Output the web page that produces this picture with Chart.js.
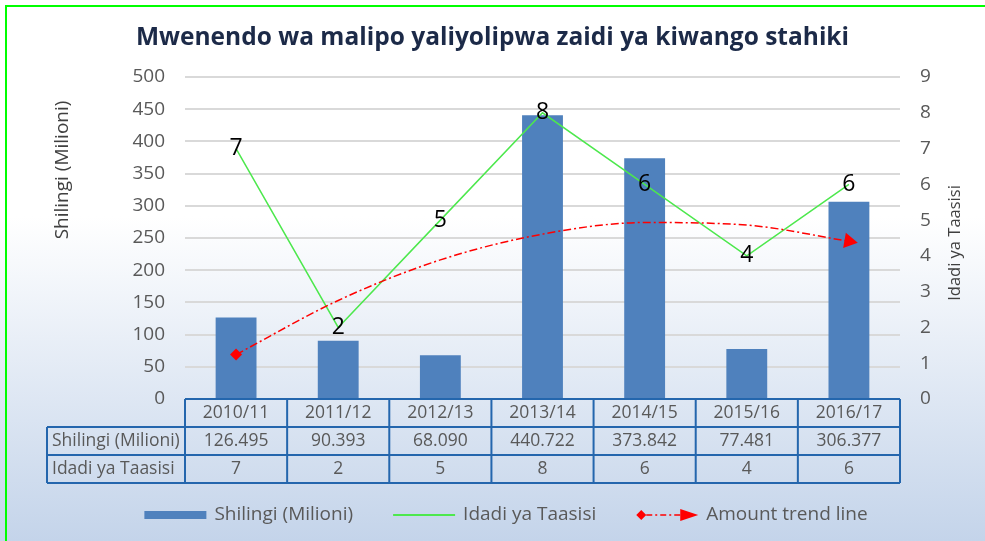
<!DOCTYPE html>
<html>
<head>
<meta charset="utf-8">
<script src="https://cdn.jsdelivr.net/npm/chart.js@4.4.0/dist/chart.umd.min.js"></script>
<style>
  html, body { margin: 0; padding: 0; background: #fff; }
  #chart { display: block; }
</style>
</head>
<body>
<canvas id="chart" width="985" height="541"></canvas>
<script>
const years = ['2010/11', '2011/12', '2012/13', '2013/14', '2014/15', '2015/16', '2016/17'];
const amounts = [126.495, 90.393, 68.090, 440.722, 373.842, 77.481, 306.377];
const amountText = ['126.495', '90.393', '68.090', '440.722', '373.842', '77.481', '306.377'];
const institutions = [7, 2, 5, 8, 6, 4, 6];
// trend line values at each year
const trend = [69, 153, 216, 256, 274, 270, 245];
const rowLabels = ['Shilingi (Milioni)', 'Idadi ya Taasisi'];

const FONT = "'Open Sans', 'DejaVu Sans', sans-serif";
const GREY = '#595959';
const BLUE = '#4f81bd';
const GREEN = '#4de84d';
const RED = '#ff0000';
const TABLE_LINE = '#2466ad';

// background gradient, green frame
const frame = {
  id: 'frame',
  beforeDraw(chart) {
    const ctx = chart.ctx;
    const g = ctx.createLinearGradient(0, 0, 0, chart.height);
    g.addColorStop(0, '#ffffff');
    g.addColorStop(0.4, '#ffffff');
    g.addColorStop(1, '#c4d4ea');
    ctx.save();
    ctx.fillStyle = g;
    ctx.fillRect(0, 0, chart.width, chart.height);
    ctx.restore();
  },
  afterDraw(chart) {
    const ctx = chart.ctx;
    ctx.save();
    ctx.fillStyle = '#00ff00';
    ctx.fillRect(5, 5, chart.width - 5, 2);
    ctx.fillRect(5, 5, 2, chart.height - 5);
    ctx.restore();
  }
};

// numbers on the green line
const pointLabels = {
  id: 'pointLabels',
  afterDatasetsDraw(chart) {
    const ctx = chart.ctx;
    const meta = chart.getDatasetMeta(1);
    ctx.save();
    ctx.font = '23px ' + FONT;
    ctx.fillStyle = '#000';
    ctx.textAlign = 'center';
    ctx.textBaseline = 'middle';
    meta.data.forEach((pt, i) => {
      ctx.fillText(String(institutions[i]), pt.x, pt.y);
    });
    ctx.restore();
  }
};

// axis titles, data table and legend
const extras = {
  id: 'extras',
  afterDraw(chart) {
    const ctx = chart.ctx;
    const area = chart.chartArea;
    const xs = chart.scales.x;
    const n = years.length;
    const colW = (area.right - area.left) / n;
    const top = area.bottom;
    const rowH = 28;
    const tableLeft = 47;

    ctx.save();
    // axis titles
    ctx.fillStyle = '#404040';
    ctx.textAlign = 'center';
    ctx.textBaseline = 'middle';
    ctx.save();
    ctx.font = '19px ' + FONT;
    ctx.translate(63, 170);
    ctx.rotate(-Math.PI / 2);
    ctx.fillText('Shilingi (Milioni)', 0, 0);
    ctx.restore();
    ctx.save();
    ctx.font = '16.5px ' + FONT;
    ctx.translate(955, 243);
    ctx.rotate(-Math.PI / 2);
    ctx.fillText('Idadi ya Taasisi', 0, 0);
    ctx.restore();

    // table
    ctx.strokeStyle = TABLE_LINE;
    ctx.lineWidth = 2;
    ctx.beginPath();
    ctx.moveTo(area.left, top); ctx.lineTo(area.right, top);
    for (let r = 1; r <= 3; r++) {
      ctx.moveTo(tableLeft, top + r * rowH); ctx.lineTo(area.right, top + r * rowH);
    }
    ctx.moveTo(tableLeft, top + rowH); ctx.lineTo(tableLeft, top + 3 * rowH);
    for (let i = 0; i <= n; i++) {
      const x = area.left + i * colW;
      ctx.moveTo(x, top); ctx.lineTo(x, top + 3 * rowH);
    }
    ctx.stroke();

    ctx.fillStyle = GREY;
    ctx.font = '17.5px ' + FONT;
    years.forEach((y, i) => {
      const cx = xs.getPixelForValue(i);
      ctx.fillText(y, cx, top + rowH / 2);
      ctx.fillText(amountText[i], cx, top + rowH * 1.5);
      ctx.fillText(String(institutions[i]), cx, top + rowH * 2.5);
    });
    ctx.textAlign = 'left';
    rowLabels.forEach((t, r) => ctx.fillText(t, tableLeft + 5, top + rowH * (r + 1.5)));

    // legend
    const ly = 515;
    const iconW = 62, gap = 8, spacing = 40;
    ctx.font = '19px ' + FONT;
    const labels = chart.data.datasets.map(d => d.label);
    const widths = labels.map(t => iconW + gap + ctx.measureText(t).width);
    let x = 506 - (widths.reduce((a, b) => a + b, 0) + spacing * (labels.length - 1)) / 2;
    labels.forEach((t, i) => {
      if (i === 0) {
        ctx.fillStyle = BLUE;
        ctx.fillRect(x, ly - 4, iconW, 8);
      } else if (i === 1) {
        ctx.strokeStyle = GREEN;
        ctx.lineWidth = 2;
        ctx.beginPath(); ctx.moveTo(x, ly); ctx.lineTo(x + iconW, ly); ctx.stroke();
      } else {
        ctx.fillStyle = RED;
        ctx.beginPath();
        ctx.moveTo(x, ly); ctx.lineTo(x + 5, ly - 5); ctx.lineTo(x + 10, ly); ctx.lineTo(x + 5, ly + 5);
        ctx.closePath(); ctx.fill();
        ctx.strokeStyle = RED;
        ctx.lineWidth = 1.5;
        ctx.setLineDash([6, 3, 2, 3]);
        ctx.beginPath(); ctx.moveTo(x + 10, ly); ctx.lineTo(x + iconW - 16, ly); ctx.stroke();
        ctx.setLineDash([]);
        ctx.beginPath();
        ctx.moveTo(x + iconW - 18, ly - 6); ctx.lineTo(x + iconW, ly); ctx.lineTo(x + iconW - 18, ly + 6);
        ctx.closePath(); ctx.fill();
      }
      ctx.fillStyle = GREY;
      ctx.fillText(t, x + iconW + gap, ly);
      x += widths[i] + spacing;
    });
    ctx.restore();
  }
};

new Chart(document.getElementById('chart'), {
  data: {
    labels: years,
    datasets: [
      {
        type: 'bar',
        label: 'Shilingi (Milioni)',
        data: amounts,
        backgroundColor: BLUE,
        barPercentage: 0.4,
        categoryPercentage: 1.0,
        yAxisID: 'y',
        order: 3
      },
      {
        type: 'line',
        label: 'Idadi ya Taasisi',
        data: institutions,
        borderColor: GREEN,
        borderWidth: 1.5,
        pointRadius: 0,
        tension: 0,
        yAxisID: 'y1',
        order: 2
      },
      {
        type: 'line',
        label: 'Amount trend line',
        data: trend,
        borderColor: RED,
        borderWidth: 1.5,
        borderDash: [8, 3, 2, 3],
        cubicInterpolationMode: 'monotone',
        pointStyle: ['rectRot', false, false, false, false, false, 'triangle'],
        pointRadius: [6, 0, 0, 0, 0, 0, 9],
        pointRotation: [0, 0, 0, 0, 0, 0, 100],
        pointBackgroundColor: RED,
        pointBorderWidth: 0,
        yAxisID: 'y',
        order: 1
      }
    ]
  },
  options: {
    responsive: false,
    animation: false,
    layout: { padding: { top: 0, left: 0, right: 0, bottom: 58 } },
    plugins: {
      legend: { display: false },
      tooltip: { enabled: false },
      title: {
        display: true,
        text: 'Mwenendo wa malipo yaliyolipwa zaidi ya kiwango stahiki',
        color: '#1c2a48',
        font: { family: FONT, size: 24.5, weight: 'bold' },
        padding: { top: 23, bottom: 24.6 }
      }
    },
    scales: {
      x: {
        grid: { display: false },
        border: { display: false },
        ticks: { display: false },
        afterFit(axis) { axis.height = 84; }
      },
      y: {
        position: 'left',
        min: 0,
        max: 500,
        ticks: { stepSize: 50, padding: 20, color: GREY, font: { family: FONT, size: 19 } },
        grid: { color: '#d9d9d9', lineWidth: 2, drawTicks: false },
        border: { display: false },
        afterFit(axis) { axis.width = 185; }
      },
      y1: {
        position: 'right',
        min: 0,
        max: 9,
        ticks: { stepSize: 1, padding: 20, color: GREY, font: { family: FONT, size: 19 } },
        grid: { display: false, drawTicks: false },
        border: { display: false },
        afterFit(axis) { axis.width = 85; }
      }
    }
  },
  plugins: [frame, pointLabels, extras]
});
</script>
</body>
</html>
